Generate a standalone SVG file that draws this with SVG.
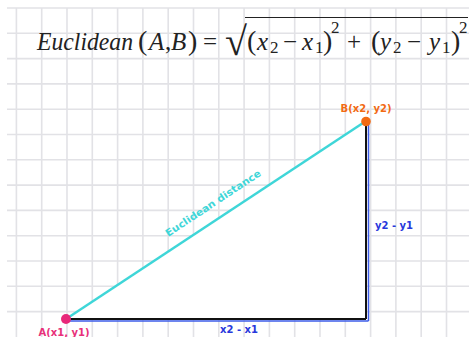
<svg xmlns="http://www.w3.org/2000/svg" width="469" height="337" viewBox="0 0 469 337">
<style>
.grid line{stroke:#e2e2e6;stroke-width:1.6}
.m{font-family:"Liberation Serif",serif;font-size:25px;fill:#222}
.i{font-style:italic}
.p{font-size:28px}
.s{font-size:17px}
.lbl{font-family:"DejaVu Sans",sans-serif;font-weight:bold;font-size:10px}
</style>
<rect width="469" height="337" fill="#fff"/>
<g class="grid">
<line x1="16.4" y1="8" x2="16.4" y2="337"/><line x1="41.7" y1="8" x2="41.7" y2="337"/><line x1="67" y1="8" x2="67" y2="337"/><line x1="92.3" y1="8" x2="92.3" y2="337"/><line x1="117.6" y1="8" x2="117.6" y2="337"/><line x1="142.9" y1="8" x2="142.9" y2="337"/><line x1="168.2" y1="8" x2="168.2" y2="337"/><line x1="193.5" y1="8" x2="193.5" y2="337"/><line x1="218.8" y1="8" x2="218.8" y2="337"/><line x1="244.1" y1="8" x2="244.1" y2="337"/><line x1="269.4" y1="8" x2="269.4" y2="337"/><line x1="294.7" y1="8" x2="294.7" y2="337"/><line x1="320" y1="8" x2="320" y2="337"/><line x1="345.3" y1="8" x2="345.3" y2="337"/><line x1="370.6" y1="8" x2="370.6" y2="337"/><line x1="395.9" y1="8" x2="395.9" y2="337"/><line x1="421.2" y1="8" x2="421.2" y2="337"/><line x1="446.5" y1="8" x2="446.5" y2="337"/>
<line x1="7" y1="8" x2="469" y2="8"/><line x1="7" y1="33.3" x2="469" y2="33.3"/><line x1="7" y1="58.6" x2="469" y2="58.6"/><line x1="7" y1="83.9" x2="469" y2="83.9"/><line x1="7" y1="109.2" x2="469" y2="109.2"/><line x1="7" y1="134.5" x2="469" y2="134.5"/><line x1="7" y1="159.8" x2="469" y2="159.8"/><line x1="7" y1="185.1" x2="469" y2="185.1"/><line x1="7" y1="210.4" x2="469" y2="210.4"/><line x1="7" y1="235.7" x2="469" y2="235.7"/><line x1="7" y1="261" x2="469" y2="261"/><line x1="7" y1="286.3" x2="469" y2="286.3"/><line x1="7" y1="311.6" x2="469" y2="311.6"/>
</g>
<g id="formula">
<text class="m i" x="37" y="50" textLength="96" lengthAdjust="spacingAndGlyphs">Euclidean</text>
<text class="m p" x="138" y="50">(</text>
<text class="m i" x="149" y="50">A</text>
<text class="m" x="165" y="50">,</text>
<text class="m i" x="171" y="50">B</text>
<text class="m p" x="188" y="50">)</text>
<text class="m" x="203" y="50">=</text>
<text class="m" x="225" y="55" style="font-size:40px">√</text>
<line x1="245" y1="17.5" x2="468" y2="17.5" stroke="#222" stroke-width="1.2"/>
<text class="m p" x="247" y="50">(</text>
<text class="m i" x="257" y="50">x</text>
<text class="m s" x="270" y="53">2</text>
<text class="m" x="283" y="50">−</text>
<text class="m i" x="302" y="50">x</text>
<text class="m s" x="315" y="53">1</text>
<text class="m p" x="323" y="50">)</text>
<text class="m s" x="331" y="33">2</text>
<text class="m" x="347" y="50">+</text>
<text class="m p" x="371" y="50">(</text>
<text class="m i" x="380" y="50">y</text>
<text class="m s" x="393" y="53">2</text>
<text class="m" x="407" y="50">−</text>
<text class="m i" x="429" y="50">y</text>
<text class="m s" x="442" y="53">1</text>
<text class="m p" x="451" y="50">)</text>
<text class="m s" x="459" y="33">2</text>
</g>
<g id="triangle">
<polygon points="66,319 366,121 366,319" fill="#fff"/>
</g>
<g id="connectors">
<line x1="368.5" y1="121" x2="368.5" y2="321" stroke="#3c5ce8" stroke-width="1.5"/>
<line x1="66" y1="321" x2="368.5" y2="321" stroke="#3c5ce8" stroke-width="1.5"/>
<line x1="366" y1="121" x2="366" y2="319" stroke="#111" stroke-width="2"/>
<line x1="66" y1="319" x2="366" y2="319" stroke="#111" stroke-width="2"/>
<line x1="66" y1="319" x2="366" y2="121" stroke="#3fd6d8" stroke-width="2.5"/>
</g>
<g id="nodeA">
<circle cx="66" cy="319" r="5" fill="#e8287a"/>
<text class="lbl" x="64" y="336" text-anchor="middle" fill="#e8307a">A(x1, y1)</text>
</g>
<g id="nodeB">
<circle cx="366" cy="121.5" r="4.8" fill="#f26a12"/>
<text class="lbl" x="366" y="112" text-anchor="middle" fill="#f26a12">B(x2, y2)</text>
</g>
<g id="labels">
<text class="lbl" x="239" y="333" text-anchor="middle" fill="#2838dc">x2 - x1</text>
<text class="lbl" x="394" y="229" text-anchor="middle" fill="#2838dc">y2 - y1</text>
<text class="lbl" x="0" y="0" text-anchor="middle" fill="#3fd6d8" textLength="112" lengthAdjust="spacingAndGlyphs" transform="translate(215,206) rotate(-33.6)">Euclidean distance</text>
</g>
</svg>
